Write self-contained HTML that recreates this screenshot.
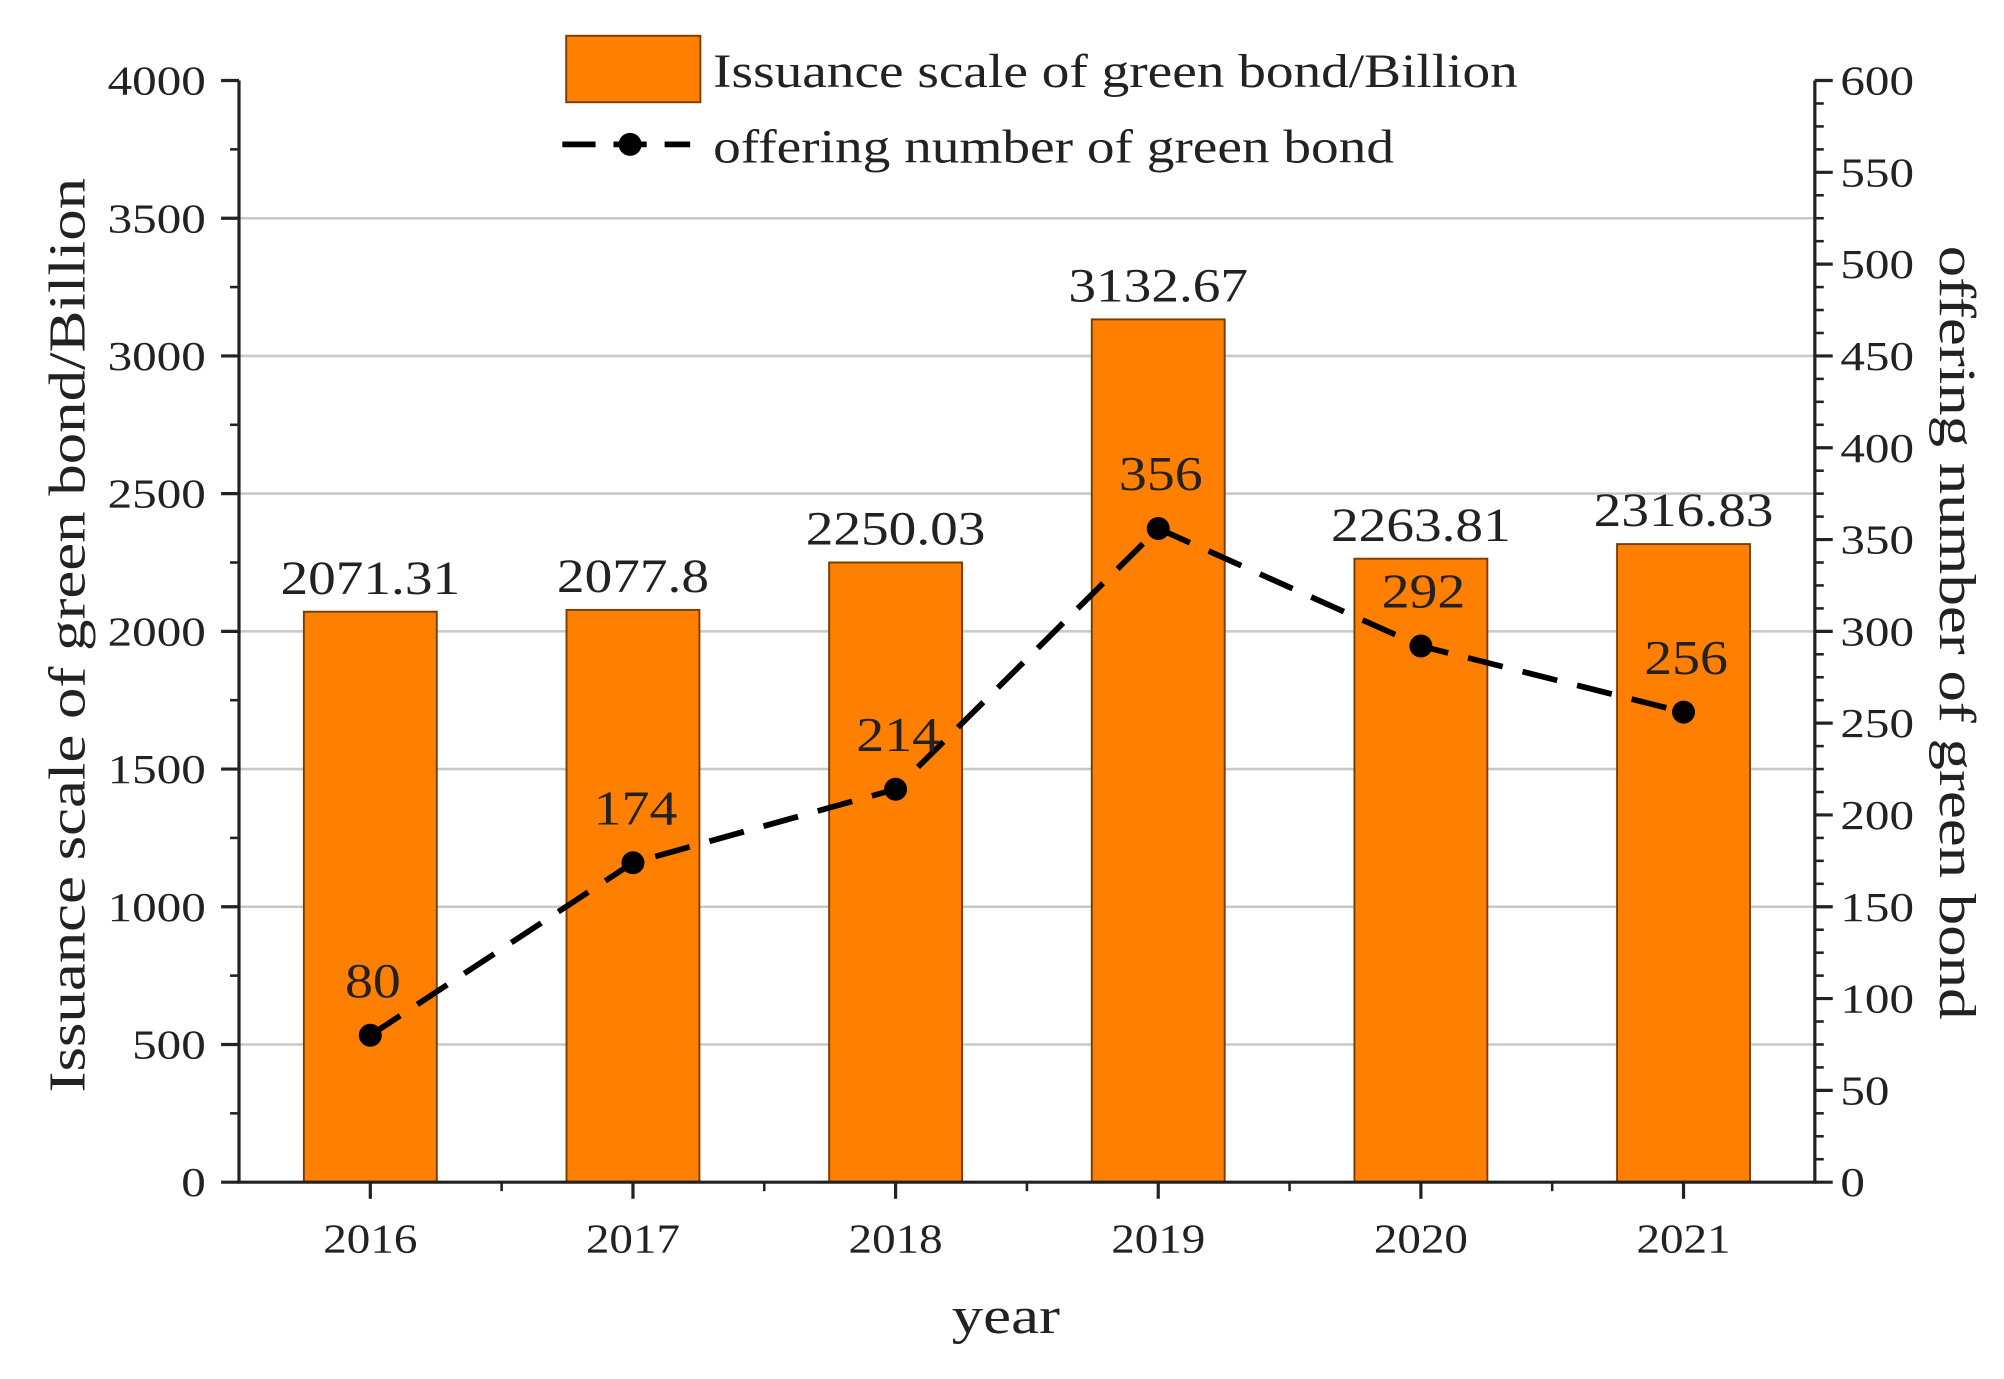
<!DOCTYPE html>
<html><head><meta charset="utf-8"><style>
html,body{margin:0;padding:0;background:#fff}
svg{display:block}
text{font-family:"Liberation Serif",serif;fill:#222}
</style></head><body>
<svg id="chart" width="2004" height="1379" viewBox="0 0 1568 1079" preserveAspectRatio="none" xmlns="http://www.w3.org/2000/svg"></svg>
<script>
const categories = ["2016","2017","2018","2019","2020","2021"];
const scaleValues = [2071.31,2077.8,2250.03,3132.67,2263.81,2316.83];
const scaleLabels = ["2071.31","2077.8","2250.03","3132.67","2263.81","2316.83"];
const countValues = [80,174,214,356,292,256];
const leftTicks = [0,500,1000,1500,2000,2500,3000,3500,4000];
const rightTicks = [0,50,100,150,200,250,300,350,400,450,500,550,600];

const svg = document.getElementById('chart');
const NS = 'http://www.w3.org/2000/svg';
const X0 = 187, X1 = 1420, Y0 = 925, Y1 = 63;
const band = (X1 - X0) / categories.length;
const xC = i => X0 + band * (i + 0.5);
const yL = v => Y0 - (v / 4000) * (Y0 - Y1);
const yR = v => Y0 - (v / 600) * (Y0 - Y1);
const widen = [];
function mk(tag, attrs, parent) {
  const e = document.createElementNS(NS, tag);
  for (const k in attrs) e.setAttribute(k, attrs[k]);
  (parent || svg).appendChild(e);
  return e;
}
function txt(s, attrs, k) { const t = mk('text', attrs); t.textContent = s; widen.push([t, k || 1.18]); return t; }

leftTicks.forEach(v => {
  if (v === 0 || v === 4000) return;
  const g = mk('line', {x1: X0, x2: X1, y1: yL(v), y2: yL(v), stroke: '#c8c8c8', 'stroke-width': 2});
  
  
});

categories.forEach((c, i) => {
  const w = 104;
  const r = mk('rect', {x: xC(i) - w / 2, y: yL(scaleValues[i]), width: w, height: Y0 - yL(scaleValues[i]), fill: '#ff8000', stroke: '#7a3d00', 'stroke-width': 1.5});
  
  
  const t = txt(scaleLabels[i], {x: xC(i), y: yL(scaleValues[i]) - 14, 'text-anchor': 'middle', 'font-size': 37}, 1.17);
  
  
});

const ax = mk('path', {d: `M${X0},${Y1}V${Y0}H${X1}V${Y1}`, fill: 'none', stroke: '#222', 'stroke-width': 2.5});


leftTicks.forEach(v => {
  mk('line', {x1: X0 - 14, x2: X0, y1: yL(v), y2: yL(v), stroke: '#222', 'stroke-width': 2.5});
  const t = txt(String(v), {x: X0 - 26, y: yL(v) + 11, 'text-anchor': 'end', 'font-size': 32}, 1.2);
  
  
});
for (let v = 250; v < 4000; v += 500) mk('line', {x1: X0 - 7, x2: X0, y1: yL(v), y2: yL(v), stroke: '#222', 'stroke-width': 2});
rightTicks.forEach(v => {
  mk('line', {x1: X1, x2: X1 + 14, y1: yR(v), y2: yR(v), stroke: '#222', 'stroke-width': 2.5});
  const t = txt(String(v), {x: X1 + 20, y: yR(v) + 11, 'text-anchor': 'start', 'font-size': 32}, 1.2);
  
  
});
for (let v = 12.5; v < 600; v += 12.5) if (v % 50) mk('line', {x1: X1, x2: X1 + 7, y1: yR(v), y2: yR(v), stroke: '#222', 'stroke-width': 2});
categories.forEach((c, i) => {
  mk('line', {x1: xC(i), x2: xC(i), y1: Y0, y2: Y0 + 13, stroke: '#222', 'stroke-width': 2.5});
  if (i > 0) mk('line', {x1: X0 + band * i, x2: X0 + band * i, y1: Y0, y2: Y0 + 7, stroke: '#222', 'stroke-width': 2});
  const t = txt(c, {x: xC(i), y: Y0 + 55, 'text-anchor': 'middle', 'font-size': 32}, 1.15);
  
  
});

const pts = countValues.map((v, i) => xC(i) + ',' + yR(v)).join(' ');
const pl = mk('polyline', {points: pts, fill: 'none', stroke: '#000', 'stroke-width': 4.5, 'stroke-dasharray': '28,16'});


countValues.forEach((v, i) => {
  const c = mk('circle', {cx: xC(i), cy: yR(v), r: 9, fill: '#000'});
  
  
  const t = txt(String(v), {x: xC(i) + 2, y: yR(v) - 30, 'text-anchor': 'middle', 'font-size': 38}, 1.15);
  
  
});

let t = txt('Issuance scale of green bond/Billion', {x: 0, y: 0, 'text-anchor': 'middle', 'font-size': 41, transform: 'translate(66,497) rotate(-90)'}, 1.2);
 
t = txt('offering number of green bond', {x: 0, y: 0, 'text-anchor': 'middle', 'font-size': 41, transform: 'translate(1518,495) rotate(90)'}, 1.2);
 
t = txt('year', {x: 787, y: 1043, 'text-anchor': 'middle', 'font-size': 41}, 1.2);
 

const lb = mk('rect', {x: 443, y: 28, width: 105, height: 52, fill: '#ff8000', stroke: '#7a3d00', 'stroke-width': 1.5});
 
t = txt('Issuance scale of green bond/Billion', {x: 558, y: 68, 'font-size': 37}, 1.17);
 
const ll = mk('line', {x1: 440, x2: 540, y1: 113, y2: 113, stroke: '#000', 'stroke-width': 4.5, 'stroke-dasharray': '26,14'});
 
mk('circle', {cx: 493, cy: 113, r: 9, fill: '#000'});
t = txt('offering number of green bond', {x: 558, y: 127, 'font-size': 37}, 1.17);
 

widen.forEach(([el, k]) => {
  const L = el.getComputedTextLength();
  if (L > 0) {
    el.setAttribute('textLength', (L * k).toFixed(1));
    el.setAttribute('lengthAdjust', 'spacingAndGlyphs');
  }
});
</script>
</body></html>
